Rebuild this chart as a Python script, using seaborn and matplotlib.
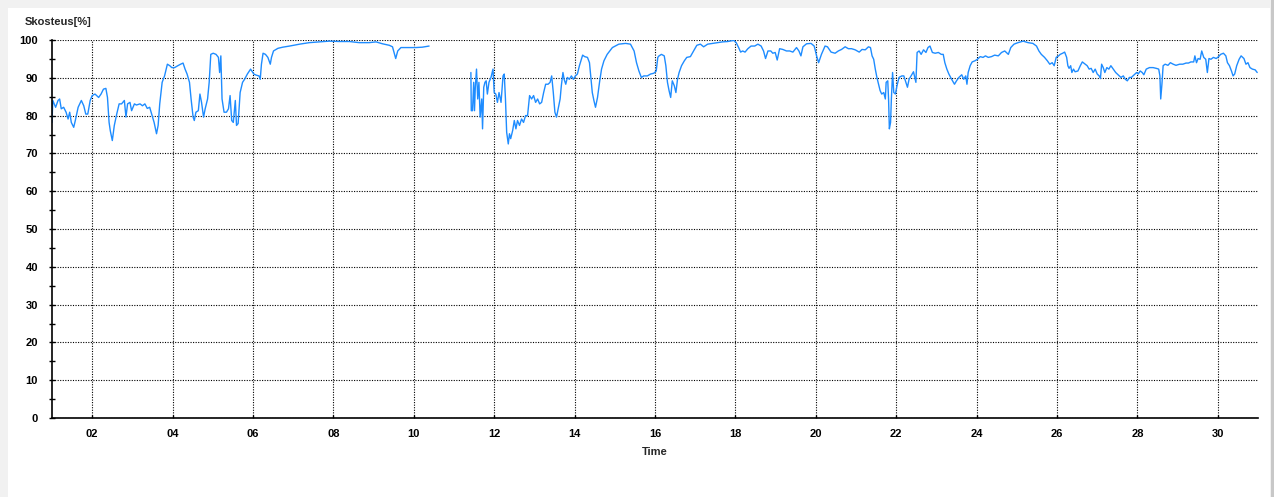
import numpy as np
import pandas as pd
import seaborn as sns
import matplotlib.pyplot as plt
from matplotlib.patches import Rectangle

# humidity readings, day of month -> %  (two logged stretches with a gap between)
days_a = [1.00, 1.02, 1.09, 1.15, 1.19, 1.23, 1.29, 1.35, 1.40, 1.44,
          1.48, 1.54, 1.58, 1.65, 1.73, 1.79, 1.84, 1.89, 1.95, 2.00,
          2.07, 2.16, 2.22, 2.28, 2.34, 2.38, 2.42, 2.45, 2.50, 2.55,
          2.61, 2.67, 2.73, 2.80, 2.84, 2.88, 2.94, 2.98, 3.05, 3.10,
          3.19, 3.25, 3.31, 3.37, 3.43, 3.49, 3.54, 3.60, 3.64, 3.68,
          3.74, 3.80, 3.87, 3.93, 3.98, 4.05, 4.13, 4.20, 4.26, 4.31,
          4.36, 4.42, 4.46, 4.51, 4.54, 4.58, 4.64, 4.68, 4.72, 4.77,
          4.81, 4.87, 4.91, 4.95, 5.01, 5.08, 5.14, 5.17, 5.20, 5.23,
          5.28, 5.34, 5.39, 5.43, 5.47, 5.51, 5.56, 5.59, 5.63, 5.68,
          5.74, 5.79, 5.86, 5.94, 6.02, 6.08, 6.15, 6.18, 6.21, 6.25,
          6.31, 6.37, 6.43, 6.46, 6.51, 6.62, 6.74, 6.91, 7.16, 7.40,
          7.65, 7.90, 8.15, 8.40, 8.64, 8.89, 9.06, 9.22, 9.39, 9.47,
          9.51, 9.55, 9.60, 9.68, 9.84, 10.05, 10.21, 10.38]
hum_a = [78.2, 84.0, 82.2, 84.0, 84.4, 81.8, 82.2, 80.9, 79.1, 80.9,
         78.2, 76.9, 78.7, 82.2, 84.0, 82.6, 80.4, 80.4, 84.0, 85.3,
         85.7, 84.8, 85.7, 87.0, 87.2, 84.8, 78.2, 76.0, 73.4, 77.4,
         80.4, 83.1, 83.1, 84.0, 79.6, 83.1, 83.5, 81.3, 83.1, 82.8,
         83.1, 82.6, 83.1, 81.9, 82.2, 80.0, 78.2, 75.2, 77.4, 83.1,
         88.8, 90.5, 93.6, 93.2, 92.7, 92.7, 93.2, 93.6, 93.9, 92.3,
         91.0, 88.8, 84.4, 79.6, 78.7, 80.9, 81.3, 85.7, 83.5, 79.6,
         81.8, 84.4, 88.8, 96.2, 96.5, 96.2, 95.4, 91.4, 95.8, 84.4,
         80.9, 80.9, 81.8, 85.3, 78.7, 78.2, 84.0, 77.4, 77.9, 86.1,
         88.8, 89.6, 91.0, 92.3, 91.0, 90.7, 90.5, 89.6, 93.6, 96.5,
         96.2, 95.4, 93.6, 95.4, 97.1, 97.8, 98.1, 98.4, 98.9, 99.3,
         99.5, 99.7, 99.6, 99.6, 99.3, 99.3, 99.5, 99.0, 98.6, 98.2,
         96.7, 95.1, 97.1, 98.0, 98.0, 98.0, 98.1, 98.4]

days_b = [11.42, 11.43, 11.46, 11.49, 11.51, 11.53, 11.56, 11.59, 11.62, 11.65,
          11.69, 11.71, 11.74, 11.77, 11.80, 11.83, 11.87, 11.92, 11.97, 12.00,
          12.04, 12.08, 12.12, 12.17, 12.22, 12.25, 12.28, 12.31, 12.35, 12.38,
          12.41, 12.46, 12.50, 12.54, 12.58, 12.63, 12.68, 12.73, 12.78, 12.83,
          12.88, 12.93, 12.98, 13.03, 13.08, 13.13, 13.18, 13.23, 13.28, 13.34,
          13.39, 13.43, 13.47, 13.51, 13.55, 13.59, 13.64, 13.67, 13.71, 13.74,
          13.78, 13.82, 13.87, 13.92, 13.97, 14.02, 14.07, 14.12, 14.17, 14.20,
          14.25, 14.32, 14.37, 14.40, 14.44, 14.48, 14.52, 14.57, 14.62, 14.67,
          14.73, 14.81, 14.94, 15.10, 15.27, 15.39, 15.48, 15.54, 15.60, 15.66,
          15.72, 15.81, 15.89, 15.97, 16.03, 16.07,
          16.10, 16.16, 16.23, 16.27, 16.31, 16.35, 16.39, 16.43, 16.48, 16.52,
          16.56, 16.60, 16.66, 16.73, 16.79, 16.88, 16.96, 17.04, 17.13, 17.21,
          17.31, 17.43, 17.56, 17.68, 17.81, 17.96, 18.02, 18.08, 18.13, 18.18,
          18.24, 18.31, 18.39, 18.48, 18.56, 18.64, 18.70, 18.75, 18.81, 18.88,
          18.93, 18.99, 19.04, 19.10, 19.18, 19.27, 19.35, 19.43, 19.52, 19.58,
          19.63, 19.68, 19.77, 19.88, 19.96, 20.02, 20.07, 20.14, 20.23, 20.29,
          20.38, 20.48, 20.56, 20.64, 20.73, 20.81, 20.89, 20.98, 21.08,
          21.15, 21.23, 21.31, 21.36, 21.40, 21.44, 21.48, 21.52, 21.56, 21.60,
          21.64, 21.69, 21.73, 21.75, 21.79, 21.81, 21.83, 21.86, 21.88, 21.91,
          21.94, 21.98, 22.02, 22.07, 22.14, 22.19, 22.24, 22.28, 22.32, 22.37,
          22.43, 22.49, 22.52, 22.57, 22.62, 22.68, 22.74, 22.79, 22.84, 22.90,
          22.97, 23.05, 23.12, 23.17, 23.21, 23.26, 23.31, 23.38, 23.45, 23.50,
          23.56, 23.63, 23.68, 23.73, 23.76, 23.79, 23.84, 23.89, 23.96, 24.02,
          24.09, 24.16, 24.22, 24.29, 24.37, 24.45, 24.54, 24.62, 24.70, 24.79,
          24.85, 24.93, 25.03, 25.16, 25.28, 25.40, 25.49, 25.55, 25.61, 25.69,
          25.76, 25.82, 25.88, 25.93, 25.98, 26.04,
          26.08, 26.14, 26.19, 26.24, 26.27, 26.30, 26.34, 26.37, 26.41, 26.45,
          26.52, 26.58, 26.63, 26.70, 26.75, 26.80, 26.85, 26.90, 26.95, 27.00,
          27.05, 27.08, 27.11, 27.15, 27.19, 27.24, 27.29, 27.34, 27.40, 27.46,
          27.52, 27.59, 27.65, 27.70, 27.75, 27.80, 27.85, 27.92, 27.98, 28.02,
          28.07, 28.12, 28.16, 28.22, 28.30, 28.39, 28.47, 28.53, 28.56, 28.58,
          28.61, 28.64, 28.69, 28.76, 28.82, 28.89, 28.96, 29.05, 29.13, 29.21,
          29.27, 29.33, 29.40, 29.43, 29.47, 29.51, 29.56, 29.60, 29.65, 29.70,
          29.74, 29.78, 29.83, 29.89, 29.96, 30.02, 30.07, 30.14, 30.20, 30.24,
          30.29, 30.34, 30.38, 30.42, 30.47, 30.53, 30.58, 30.65, 30.70, 30.75,
          30.80, 30.86, 30.93, 30.98]
hum_b = [91.4, 81.3, 81.3, 88.8, 81.3, 87.5, 92.3, 84.4, 88.8, 79.6,
         84.4, 76.5, 87.5, 88.8, 89.2, 85.7, 88.8, 90.1, 92.3, 86.1,
         85.7, 83.5, 86.1, 83.5, 90.5, 91.0, 84.4, 75.6, 72.5, 75.2,
         73.9, 76.1, 78.7, 76.5, 78.7, 77.4, 79.1, 78.2, 80.0, 80.0,
         85.3, 84.4, 85.3, 83.5, 84.4, 83.1, 83.5, 86.1, 88.3, 88.3,
         88.8, 90.5, 86.1, 80.9, 79.6, 81.8, 84.4, 87.9, 91.4, 89.6,
         88.3, 90.1, 89.6, 90.5, 89.6, 90.5, 91.0, 93.2, 94.9, 96.0,
         95.6, 95.4, 94.0, 90.5, 86.1, 84.0, 82.2, 84.8, 88.8, 92.3,
         94.5, 96.2, 98.0, 98.9, 99.1, 98.9, 97.1, 94.0, 91.8, 90.1,
         90.5, 90.5, 91.0, 91.2, 91.8, 95.4,
         95.8, 96.2, 95.8, 93.2, 88.8, 86.6, 84.8, 89.2, 87.9, 86.1,
         89.6, 91.4, 93.2, 94.5, 95.4, 95.6, 97.1, 98.6, 98.9, 98.2,
         98.9, 99.1, 99.3, 99.5, 99.6, 99.9, 99.3, 98.0, 96.8, 97.1,
         96.8, 97.7, 98.4, 98.4, 98.9, 98.4, 97.1, 95.1, 97.1, 97.1,
         96.5, 96.7, 94.7, 97.7, 97.5, 97.1, 97.1, 96.8, 98.0, 97.1,
         95.8, 98.2, 99.0, 99.1, 98.4, 95.8, 94.0, 96.2, 98.4, 98.2,
         96.8, 96.5, 97.1, 97.5, 98.2, 97.7, 97.7, 97.4, 96.8,
         97.5, 97.4, 98.2, 98.0, 95.8, 94.9, 92.3, 90.1, 88.3, 86.6,
         85.7, 86.1, 84.4, 88.8, 89.2, 84.4, 76.5, 78.2, 84.4, 91.4,
         86.1, 85.7, 87.9, 90.1, 90.5, 90.5, 88.8, 87.5, 89.6, 90.5,
         91.6, 88.8, 96.7, 97.1, 96.2, 97.4, 96.7, 98.0, 98.4, 96.7,
         96.5, 96.7, 96.2, 96.2, 94.0, 92.3, 91.0, 89.6, 88.3, 89.2,
         90.1, 90.8, 89.6, 90.5, 88.3, 91.4, 93.2, 94.2, 94.5, 94.9,
         95.6, 95.4, 95.8, 95.4, 95.6, 96.0, 95.8, 96.7, 97.1, 96.2,
         98.0, 98.9, 99.3, 99.7, 99.3, 99.1, 98.4, 97.1, 96.2, 95.4,
         94.5, 93.6, 94.0, 93.2, 95.4, 95.8,
         96.2, 96.5, 96.8, 95.4, 93.2, 92.5, 93.2, 91.4, 92.3, 91.6,
         91.8, 93.2, 94.2, 93.6, 93.2, 92.3, 92.5, 91.4, 92.3, 91.0,
         90.5, 89.8, 93.6, 92.7, 91.4, 92.7, 92.3, 93.2, 92.3, 91.4,
         90.8, 90.1, 90.5, 89.6, 89.2, 90.1, 90.1, 90.8, 91.4, 91.0,
         91.8, 91.4, 90.8, 92.3, 92.7, 92.7, 92.5, 92.3, 90.5, 84.4,
         88.3, 93.2, 93.6, 93.3, 94.0, 93.6, 93.3, 93.6, 93.6, 93.9,
         93.9, 94.2, 94.2, 95.8, 94.0, 95.1, 94.9, 97.1, 95.4, 94.9,
         91.4, 95.1, 94.9, 95.4, 95.1, 95.6, 96.2, 96.5, 95.8, 94.0,
         93.2, 91.8, 90.5, 91.0, 93.2, 94.9, 95.8, 95.1, 93.6, 94.0,
         92.7, 92.3, 92.1, 91.4]

x_ticks = [2, 4, 6, 8, 10, 12, 14, 16, 18, 20, 22, 24, 26, 28, 30]
x_tick_labels = ["02", "04", "06", "08", "10", "12", "14", "16", "18", "20",
                 "22", "24", "26", "28", "30"]
y_ticks = [0, 10, 20, 30, 40, 50, 60, 70, 80, 90, 100]

df = pd.concat([
    pd.DataFrame({"day": days_a, "humidity": hum_a, "segment": 0}),
    pd.DataFrame({"day": days_b, "humidity": hum_b, "segment": 1}),
])

sns.set_style("white")
plt.rcParams["font.family"] = ["Liberation Sans", "DejaVu Sans"]
plt.rcParams["font.weight"] = "bold"

fig = plt.figure(figsize=(12.74, 4.97), dpi=100)
fig.patch.set_facecolor("#f1f1f1")
fig.add_artist(Rectangle((8 / 1274, 0), 1262 / 1274, 489 / 497,
                         transform=fig.transFigure, facecolor="white",
                         edgecolor="none", zorder=0))
fig.add_artist(Rectangle((1271 / 1274, 0), 3 / 1274, 1,
                         transform=fig.transFigure, facecolor="#c8c8c8",
                         edgecolor="none", zorder=0))

ax = fig.add_axes([52 / 1274, 1 - 418 / 497, 1206 / 1274, 378 / 497])
ax.set_facecolor("none")

sns.lineplot(data=df, x="day", y="humidity", units="segment", estimator=None,
             sort=False, color="#1e8cff", linewidth=1.0, ax=ax)

ax.set_xlim(1, 31)
ax.set_ylim(0, 100)
ax.set_xticks(x_ticks)
ax.set_xticklabels(x_tick_labels)
ax.set_yticks(y_ticks)
ax.set_yticks([5, 15, 25, 35, 45, 55, 65, 75, 85, 95], minor=True)

ax.grid(True, which="major", color="black", linestyle=(0, (1, 1.3)), linewidth=0.8)
for s in ["top", "right"]:
    ax.spines[s].set_visible(False)
for s in ["left", "bottom"]:
    ax.spines[s].set_color("black")
    ax.spines[s].set_linewidth(1.2)

ax.tick_params(axis="y", which="both", direction="inout", length=4, width=1,
               colors="black", labelsize=8, pad=8, left=True)
ax.tick_params(axis="x", which="major", direction="in", length=2, width=1,
               colors="black", labelsize=8, pad=8, bottom=True)

ax.set_xlabel("Time", fontsize=8, fontweight="bold", labelpad=6)
ax.set_ylabel("")
fig.text(25 / 1274, 1 - 22 / 497, "Skosteus[%]", fontsize=8, fontweight="bold",
         ha="left", va="center")

fig.savefig("out.png", dpi=100)
